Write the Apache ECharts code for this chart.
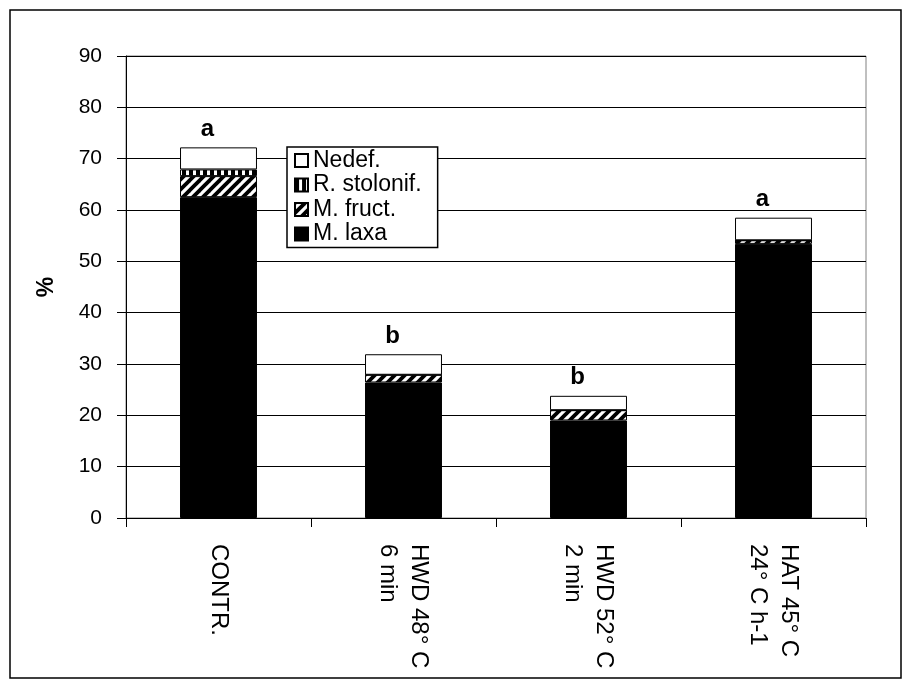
<!DOCTYPE html>
<html>
<head>
<meta charset="utf-8">
<script src="https://cdn.jsdelivr.net/npm/echarts@6/dist/echarts.min.js"></script>
<style>html,body{margin:0;padding:0;background:#fff;}#c{width:912px;height:688px;}</style>
</head>
<body>
<div id="c"></div>
<script>
var categories = ['CONTR.', 'HWD 48° C\n6 min', 'HWD 52° C\n2 min', 'HAT 45° C\n24° C h-1'];
var mLaxa = [62.5, 26.4, 19.0, 53.4];
var mFruct = [4.1, 1.5, 2.0, 0.7];
var rStolonif = [1.3, 0, 0, 0];
var nedef = [4.3, 4.0, 2.8, 4.4];
var letters = ['a', 'b', 'b', 'a'];
var seriesNames = ['M. laxa', 'M. fruct.', 'R. stolonif.', 'Nedef.'];
var yTicks = {min: 0, max: 90, interval: 10};

function diagPattern() {
  var c = document.createElement('canvas'); c.width = 10; c.height = 10;
  var g = c.getContext('2d');
  g.fillStyle = '#fff'; g.fillRect(0, 0, 10, 10);
  g.strokeStyle = '#000'; g.lineWidth = 3.8;
  [[-10, 10, 10, -10], [0, 10, 10, 0], [0, 20, 20, 0]].forEach(function (l) {
    g.beginPath(); g.moveTo(l[0], l[1]); g.lineTo(l[2], l[3]); g.stroke();
  });
  return c;
}
function vertPattern() {
  var c = document.createElement('canvas'); c.width = 7; c.height = 7;
  var g = c.getContext('2d');
  g.fillStyle = '#fff'; g.fillRect(0, 0, 7, 7);
  g.fillStyle = '#000'; g.fillRect(0, 0, 4, 7);
  return c;
}
var fills = ['#000', {image: diagPattern(), repeat: 'repeat'}, {image: vertPattern(), repeat: 'repeat'}, '#fff'];
var datasets = [mLaxa, mFruct, rStolonif, nedef];
var FONT = 'Liberation Sans, Arial, sans-serif';

var series = datasets.map(function (d, i) {
  var s = {
    name: seriesNames[i], type: 'bar', stack: 'total', data: d,
    barWidth: '41.6%',
    itemStyle: {color: fills[i], borderColor: '#000', borderWidth: 1},
    emphasis: {disabled: true}, animation: false
  };
  if (i === 3) {
    s.label = {
      show: true, position: 'top', distance: 6, offset: [-11, 0],
      formatter: function (p) { return letters[p.dataIndex]; },
      fontFamily: FONT, fontSize: 24, fontWeight: 'bold', color: '#000'
    };
  }
  return s;
});

var chart = echarts.init(document.getElementById('c'), null, {renderer: 'canvas'});
chart.setOption({
  animation: false,
  backgroundColor: '#fff',
  grid: {left: 126, right: 46, top: 56, bottom: 170, show: true, borderColor: '#808080', borderWidth: 1},
  legend: {
    data: ['Nedef.', 'R. stolonif.', 'M. fruct.', 'M. laxa'],
    orient: 'vertical', left: 287, top: 147,
    padding: [2, 16, 2, 7], itemGap: 1.5, itemWidth: 13, itemHeight: 13,
    icon: 'rect',
    backgroundColor: '#fff', borderColor: '#000', borderWidth: 1.5,
    textStyle: {fontFamily: FONT, fontSize: 23, color: '#000'},
    selectedMode: false
  },
  xAxis: {
    type: 'category', data: categories, boundaryGap: true,
    axisLine: {lineStyle: {color: '#000', width: 1}},
    axisTick: {show: true, length: 9, inside: false, lineStyle: {color: '#000'}},
    axisLabel: {rotate: -90, margin: 26, fontFamily: FONT, fontSize: 24, lineHeight: 31, color: '#000', interval: 0}
  },
  yAxis: {
    type: 'value', min: yTicks.min, max: yTicks.max, interval: yTicks.interval,
    name: '%', nameLocation: 'middle', nameGap: 68, nameRotate: 90,
    nameTextStyle: {fontFamily: FONT, fontSize: 23, fontWeight: 'bold', color: '#000'},
    axisLine: {show: true, lineStyle: {color: '#000', width: 1}},
    axisTick: {show: true, length: 9, lineStyle: {color: '#000'}},
    axisLabel: {margin: 24, fontFamily: FONT, fontSize: 21, color: '#000'},
    splitLine: {show: true, lineStyle: {color: '#000', width: 1}}
  },
  graphic: [{
    type: 'rect', shape: {x: 10, y: 10, width: 891, height: 668},
    style: {fill: 'none', stroke: '#000', lineWidth: 1.5}, silent: true, z: 100
  }],
  series: series
});
</script>
</body>
</html>
